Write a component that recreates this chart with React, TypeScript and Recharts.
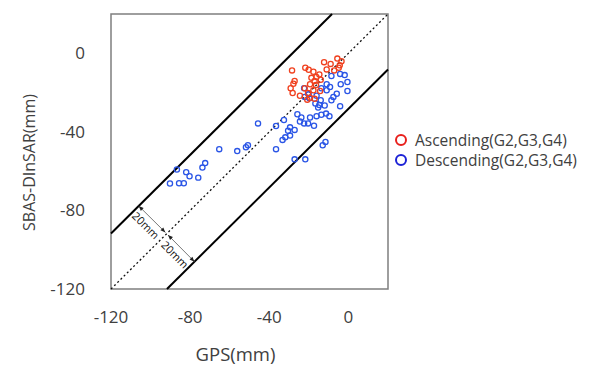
import React from 'react';
import { ScatterChart, Scatter, XAxis, YAxis, ReferenceLine, ReferenceArea } from 'recharts';

const xTicks = [-120, -80, -40, 0];
const yTicks = [-120, -80, -40, 0];
const axisDomain = [-120, 20];
const bandOffset = 28.28; // 20 mm perpendicular distance from the 1:1 line

const ascName = 'Ascending(G2,G3,G4)';
const descName = 'Descending(G2,G3,G4)';

const ascGps = [-5.6, -3.5, -12.3, -9.0, -4.9, -11.0, -7.2, -28.5, -21.8, -20.1, -17.7, -14.7, -16.2, -18.7, -14.0, -17.1, -27.2, -27.8, -19.4, -16.4, -22.1, -29.2, -17.7, -28.2, -20.4, -14.3, -24.5, -19.4, -17.1, -20.8, -4.4];
const ascSar = [-2.7, -4.0, -4.5, -5.4, -7.4, -8.2, -8.7, -8.7, -7.4, -8.4, -9.4, -10.8, -12.1, -12.5, -13.5, -14.1, -14.1, -15.5, -15.8, -16.2, -17.8, -17.8, -18.8, -20.2, -20.2, -19.2, -21.6, -22.6, -23.2, -23.6, -6.1];

const descGps = [-8.6, -4.2, -1.9, -0.5, -11.0, -9.3, -3.9, -22.4, -13.7, -11.0, -0.5, -5.9, -20.1, -16.1, -7.6, -22.1, -19.7, -8.6, -14.0, -16.7, -14.7, -12.0, -4.2, -15.3, -25.8, -23.8, -19.4, -16.1, -13.7, -11.3, -9.6, -32.6, -24.5, -22.4, -20.4, -17.4, -45.7, -36.6, -29.5, -27.2, -30.5, -31.9, -33.3, -29.5, -11.6, -13.0, -50.8, -51.8, -36.6, -65.3, -56.2, -27.2, -21.8, -86.7, -82.0, -80.3, -75.9, -90.2, -85.6, -83.2, -73.8, -72.4];
const descSar = [-11.6, -10.5, -11.1, -14.6, -15.8, -17.2, -15.8, -17.8, -17.8, -18.8, -19.2, -20.6, -20.9, -21.6, -22.2, -22.2, -22.9, -23.9, -23.9, -25.6, -26.3, -26.6, -26.9, -27.6, -31.0, -32.7, -32.7, -32.0, -31.3, -30.7, -32.0, -34.0, -34.7, -35.7, -35.7, -36.9, -35.7, -37.0, -37.7, -39.0, -39.4, -42.8, -44.1, -41.9, -45.1, -46.8, -46.8, -47.8, -48.8, -48.8, -49.8, -54.0, -54.0, -59.2, -60.5, -62.6, -63.3, -66.3, -66.2, -66.2, -58.2, -55.9];

// arrow annotations (data coordinates), each with its label
const arrowStartX = [-106.0, -91.2];
const arrowStartY = [-77.72, -92.5];
const arrowEndX = [-92.5, -77.8];
const arrowEndY = [-91.2, -106.1];
const arrowLabels = ['20mm', '20mm'];

const ascData = ascGps.map((g, i) => ({ gps: g, sar: ascSar[i] }));
const descData = descGps.map((g, i) => ({ gps: g, sar: descSar[i] }));

const RED = '#f0401e';
const BLUE = '#2a55e6';
const LEG_RED = '#e8201c';
const LEG_BLUE = '#1c22d6';
const FONT = '"Open Sans", sans-serif';
const TEXT = '#404040';

const makeDot = (color: string) => (props: any) => (
  <circle cx={props.cx} cy={props.cy} r={2.6} fill="none" stroke={color} strokeWidth={1.3} />
);

const arrowShape = (label: string) => (props: any) => {
  const { x1, y1, x2, y2 } = props;
  if ([x1, y1, x2, y2].some((v: any) => typeof v !== 'number' || isNaN(v))) return <g />;
  const dx = x2 - x1;
  const dy = y2 - y1;
  const len = Math.sqrt(dx * dx + dy * dy) || 1;
  const ux = dx / len;
  const uy = dy / len;
  const px = -uy;
  const py = ux;
  const hl = 5;
  const hw = 2;
  const head = (tx: number, ty: number, dirx: number, diry: number) =>
    `${tx},${ty} ${tx - dirx * hl + px * hw},${ty - diry * hl + py * hw} ${tx - dirx * hl - px * hw},${ty - diry * hl - py * hw}`;
  const mx = (x1 + x2) / 2;
  const my = (y1 + y2) / 2;
  const off = 8.5;
  const lx = mx - Math.abs(px) * off;
  const ly = my + Math.abs(py) * off;
  const ang = (Math.atan2(dy, dx) * 180) / Math.PI;
  const rot = ang > 90 || ang < -90 ? ang + 180 : ang;
  return (
    <g>
      <line x1={x1} y1={y1} x2={x2} y2={y2} stroke="#555" strokeWidth={0.8} />
      <polygon points={head(x2, y2, ux, uy)} fill="#222" />
      <polygon points={head(x1, y1, -ux, -uy)} fill="#222" />
      <text
        x={lx}
        y={ly}
        transform={`rotate(${rot}, ${lx}, ${ly})`}
        textAnchor="middle"
        dominantBaseline="central"
        fontSize={11}
        fontFamily={FONT}
        fill="#111"
      >
        {label}
      </text>
    </g>
  );
};

const legendItems = [
  { name: ascName, color: LEG_RED },
  { name: descName, color: LEG_BLUE },
];

export default function App() {
  return (
    <div style={{ position: 'absolute', left: 0, top: 0, width: 593, height: 367, background: '#fff' }}>
      <ScatterChart width={593} height={367} margin={{ top: 14, right: 205, bottom: 0, left: 0 }}>
        <XAxis
          type="number"
          dataKey="gps"
          domain={axisDomain}
          ticks={xTicks}
          allowDataOverflow
          axisLine={false}
          tickLine={false}
          tickSize={0}
          tickMargin={22}
          height={78}
          tick={{ fontSize: 17, fill: TEXT, fontFamily: FONT }}
          label={{
            content: (p: any) => {
              const vb = p.viewBox || {};
              return (
                <text
                  x={vb.x + vb.width / 2 - 14}
                  y={vb.y + 64}
                  textAnchor="middle"
                  dominantBaseline="central"
                  fontSize={18.5}
                  fontFamily={FONT}
                  fill={TEXT}
                >
                  GPS(mm)
                </text>
              );
            },
          }}
        />
        <YAxis
          type="number"
          dataKey="sar"
          domain={axisDomain}
          ticks={yTicks}
          allowDataOverflow
          axisLine={false}
          tickLine={false}
          tickSize={0}
          tickMargin={26}
          width={111}
          tick={{ fontSize: 17, fill: TEXT, fontFamily: FONT }}
          label={{
            content: (p: any) => {
              const vb = p.viewBox || {};
              const cx = vb.x + 29;
              const cy = vb.y + vb.height / 2 + 11;
              return (
                <text
                  x={cx}
                  y={cy}
                  transform={`rotate(-90, ${cx}, ${cy})`}
                  textAnchor="middle"
                  dominantBaseline="central"
                  fontSize={16}
                  fontFamily={FONT}
                  fill={TEXT}
                >
                  SBAS-DInSAR(mm)
                </text>
              );
            },
          }}
        />
        <ReferenceArea
          x1={axisDomain[0]}
          x2={axisDomain[1]}
          y1={axisDomain[0]}
          y2={axisDomain[1]}
          fill="none"
          stroke="#7f7f7f"
          strokeWidth={1.5}
          ifOverflow="visible"
        />
        <ReferenceLine
          segment={[{ x: axisDomain[0], y: axisDomain[0] }, { x: axisDomain[1], y: axisDomain[1] }]}
          stroke="#111"
          strokeWidth={1.3}
          strokeDasharray="2 2.5"
          ifOverflow="visible"
        />
        <ReferenceLine
          segment={[{ x: axisDomain[0], y: axisDomain[0] + bandOffset }, { x: axisDomain[1] - bandOffset, y: axisDomain[1] }]}
          stroke="#000"
          strokeWidth={2}
          ifOverflow="visible"
        />
        <ReferenceLine
          segment={[{ x: axisDomain[0] + bandOffset, y: axisDomain[0] }, { x: axisDomain[1], y: axisDomain[1] - bandOffset }]}
          stroke="#000"
          strokeWidth={2}
          ifOverflow="visible"
        />
        {arrowLabels.map((lab, i) => (
          <ReferenceLine
            key={`arrow-${i}`}
            segment={[{ x: arrowStartX[i], y: arrowStartY[i] }, { x: arrowEndX[i], y: arrowEndY[i] }]}
            ifOverflow="visible"
            shape={arrowShape(lab)}
          />
        ))}
        <Scatter name={descName} data={descData} shape={makeDot(BLUE)} isAnimationActive={false} />
        <Scatter name={ascName} data={ascData} shape={makeDot(RED)} isAnimationActive={false} />
      </ScatterChart>
      <div style={{ position: 'absolute', left: 393, top: 130, fontFamily: FONT, fontSize: 15.5, lineHeight: '20px', color: TEXT }}>
        {legendItems.map((it) => (
          <div key={it.name} style={{ display: 'flex', alignItems: 'center', height: 20, whiteSpace: 'nowrap' }}>
            <svg width={16} height={16} style={{ marginRight: 6, flex: 'none' }}>
              <circle cx={8} cy={8} r={5} fill="none" stroke={it.color} strokeWidth={2} />
            </svg>
            <span style={{ display: 'block', height: 20, lineHeight: '20px', overflow: 'visible' }}>{it.name}</span>
          </div>
        ))}
      </div>
    </div>
  );
}
